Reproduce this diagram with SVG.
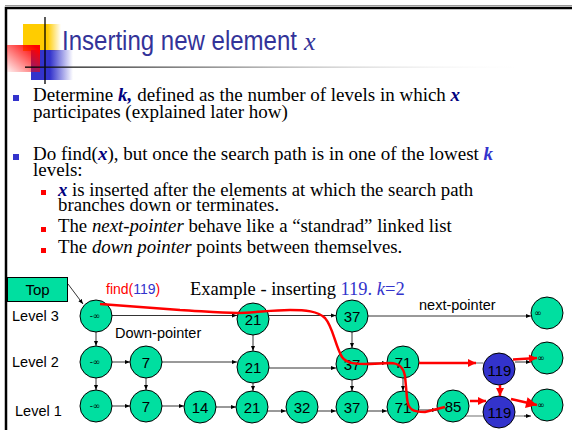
<svg xmlns="http://www.w3.org/2000/svg" width="572" height="430" viewBox="0 0 572 430">
<defs>
<style>
.nd{fill:#00DFA0;stroke:#000;stroke-width:1}
.bn{fill:#3333CC;stroke:#000;stroke-width:1}
.nt{font-family:"Liberation Sans",Arial,sans-serif;font-size:15px;text-anchor:middle;fill:#000}
.inf{font-family:"DejaVu Sans","Liberation Sans",sans-serif;font-size:9px;text-anchor:middle;fill:#000}
.lbl{font-family:"Liberation Sans",Arial,sans-serif;font-size:14.5px;fill:#000}
.bt{font-family:"Liberation Serif","Times New Roman",serif;font-size:19px;fill:#000}
.st{font-family:"Liberation Serif","Times New Roman",serif;font-size:18.8px;fill:#000}
.kx{font-weight:bold;font-style:italic;fill:#000080}
.k2{font-weight:bold;font-style:italic;fill:#3333CC}
.bl{stroke:#000;stroke-width:0.8;fill:none}
.gr{stroke:#999;stroke-width:1.4;fill:none}
.rd{stroke:#FF0000;stroke-width:2.5;fill:none}
</style>
<marker id="ah" viewBox="0 0 10 10" refX="10" refY="5" markerWidth="5" markerHeight="5" markerUnits="userSpaceOnUse" orient="auto"><path d="M0,1 L10,5 L0,9z" fill="#000"/></marker>
<marker id="ar" viewBox="0 0 10 10" refX="10" refY="5" markerWidth="9" markerHeight="8" markerUnits="userSpaceOnUse" orient="auto"><path d="M0,0 L10,5 L0,10z" fill="#FF0000"/></marker>
<marker id="arb" viewBox="0 0 10 10" refX="10" refY="5" markerWidth="12" markerHeight="11" markerUnits="userSpaceOnUse" orient="auto"><path d="M0,0 L10,5 L0,10z" fill="#FF0000"/></marker>
<linearGradient id="gy" x1="0" y1="0" x2="1" y2="0"><stop offset="0.65" stop-color="#FFCC00"/><stop offset="1" stop-color="#FFCC00" stop-opacity="0"/></linearGradient>
<linearGradient id="gb" x1="0" y1="0" x2="1" y2="0"><stop offset="0.45" stop-color="#3333CC"/><stop offset="1" stop-color="#3333CC" stop-opacity="0"/></linearGradient>
<linearGradient id="grd" x1="1" y1="0" x2="0" y2="1"><stop offset="0.1" stop-color="#FF0000"/><stop offset="1" stop-color="#FF0000" stop-opacity="0.05"/></linearGradient>
<linearGradient id="gl" x1="0" y1="0" x2="1" y2="0"><stop offset="0" stop-color="#000"/><stop offset="0.4" stop-color="#888"/><stop offset="1" stop-color="#fff" stop-opacity="0"/></linearGradient>
</defs>
<rect width="572" height="430" fill="#fff"/>
<g id="frame">
<line x1="5" y1="5.5" x2="572" y2="5.5" stroke="#999" stroke-width="1"/>
<path d="M6,430 V8 H572" fill="none" stroke="#000" stroke-width="2.5"/>
</g>
<g id="title-deco">
<rect x="23" y="24" width="38" height="27" fill="url(#gy)"/>
<rect x="31" y="50" width="42" height="30" fill="url(#gb)"/>
<rect x="7" y="45" width="33" height="27" fill="url(#grd)"/>
<line x1="45" y1="17" x2="45" y2="84" stroke="#000" stroke-width="1.3"/>
<rect x="25" y="66.5" width="510" height="1.3" fill="url(#gl)"/>
</g>
<g id="title">
<text x="62" y="50" font-family="Liberation Sans,Arial,sans-serif" font-size="27" fill="#333399" textLength="235" lengthAdjust="spacingAndGlyphs">Inserting new element</text>
<text x="304" y="50" font-family="Liberation Serif,Times New Roman,serif" font-size="26" font-style="italic" fill="#333399">x</text>
</g>
<g id="bullets">
<rect x="13" y="95" width="6" height="6" fill="#3333CC"/>
<text class="bt" x="33" y="101">Determine <tspan class="kx">k,</tspan><tspan dx="5">defined as the number of levels in which </tspan><tspan class="kx">x</tspan></text>
<text class="bt" x="33" y="118">participates (explained later how)</text>
<rect x="13" y="154" width="6" height="6" fill="#3333CC"/>
<text class="bt" x="33" y="160">Do find(<tspan class="kx">x</tspan>), but once the search path is in one of the lowest <tspan class="k2">k</tspan></text>
<text class="bt" x="33" y="176">levels:</text>
<rect x="41" y="190" width="5" height="5" fill="#FF0000"/>
<text class="st" x="58" y="196"><tspan class="kx">x</tspan> is inserted after the elements at which the search path</text>
<text class="st" x="58" y="211">branches down or terminates.</text>
<rect x="41" y="227" width="5" height="5" fill="#FF0000"/>
<text class="st" x="58" y="232">The <tspan font-style="italic">next-pointer</tspan> behave like a “standrad” linked list</text>
<rect x="41" y="248" width="5" height="5" fill="#FF0000"/>
<text class="st" x="58" y="253">The <tspan font-style="italic">down pointer</tspan> points between themselves.</text>
</g>
<g id="labels">
<text class="lbl" x="12" y="321">Level 3</text>
<text class="lbl" x="12" y="367">Level 2</text>
<text class="lbl" x="15" y="416">Level 1</text>
<text x="106" y="294" font-family="Liberation Sans,Arial,sans-serif" font-size="14" fill="#FF0000">find(<tspan fill="#3333CC">119</tspan>)</text>
<text x="190" y="295" font-family="Liberation Serif,Times New Roman,serif" font-size="18.5" fill="#000">Example - inserting <tspan fill="#3333CC">119. </tspan><tspan fill="#3333CC" font-style="italic">k</tspan><tspan fill="#3333CC">=2</tspan></text>
<text class="lbl" x="419" y="310">next-pointer</text>
<text class="lbl" x="115" y="338" font-size="14">Down-pointer</text>
</g>
<g id="connectors">
<path class="bl" d="M68,284 L83,304" marker-end="url(#ah)"/>
<path class="bl" d="M112,315.5 H237" marker-end="url(#ah)"/>
<path class="bl" d="M269,315.5 H336" marker-end="url(#ah)"/>
<path class="bl" d="M368,316 H531" marker-end="url(#ah)"/>
<path class="bl" d="M96,332 V346" marker-end="url(#ah)"/>
<path class="bl" d="M253,335 V351" marker-end="url(#ah)"/>
<path class="bl" d="M352,332 V348" marker-end="url(#ah)"/>
<path class="bl" d="M112,362 H130" marker-end="url(#ah)"/>
<path class="bl" d="M162,362 H237" marker-end="url(#ah)"/>
<path class="bl" d="M269,368 H336" marker-end="url(#ah)"/>
<path class="bl" d="M368,363 H387" marker-end="url(#ah)"/>
<path class="gr" d="M419,363 H483"/>
<path class="bl" d="M515,362 H531" marker-end="url(#ah)"/>
<path class="bl" d="M96,378 V390" marker-end="url(#ah)"/>
<path class="bl" d="M146,378 V390" marker-end="url(#ah)"/>
<path class="bl" d="M253,383 V391" marker-end="url(#ah)"/>
<path class="bl" d="M352,380 V391" marker-end="url(#ah)"/>
<path class="bl" d="M403,378 V391" marker-end="url(#ah)"/>
<path class="bl" d="M112,406 H130" marker-end="url(#ah)"/>
<path class="bl" d="M162,406 H184" marker-end="url(#ah)"/>
<path class="bl" d="M216,407 H236" marker-end="url(#ah)"/>
<path class="bl" d="M267,411 H286" marker-end="url(#ah)"/>
<path class="bl" d="M317,411 H336" marker-end="url(#ah)"/>
<path class="bl" d="M367,411 H387" marker-end="url(#ah)"/>
<path class="bl" d="M419,410 H437" marker-end="url(#ah)"/>
<path class="gr" d="M462,416 H484"/>
<path class="gr" d="M515,416 H526"/>
<path class="bl" d="M524,416 H531" marker-end="url(#ah)"/>
</g>
<g id="top"><rect x="7.5" y="277.5" width="60" height="24" class="nd"/><text class="nt" x="37.5" y="295">Top</text></g>
<g id="n3-minf"><circle class="nd" cx="96" cy="316" r="16"/><text class="inf" x="95" y="318.5">-∞</text></g>
<g id="n3-21"><circle class="nd" cx="253" cy="319" r="16"/><text class="nt" x="253" y="324.5">21</text></g>
<g id="n3-37"><circle class="nd" cx="352" cy="316" r="16"/><text class="nt" x="352" y="321.5">37</text></g>
<g id="n3-inf"><circle class="nd" cx="547" cy="313" r="16"/><text class="inf" x="538" y="316">∞</text></g>
<g id="n2-minf"><circle class="nd" cx="96" cy="362" r="16"/><text class="inf" x="95" y="364.5">-∞</text></g>
<g id="n2-7"><circle class="nd" cx="146" cy="362" r="16"/><text class="nt" x="146" y="367.5">7</text></g>
<g id="n2-21"><circle class="nd" cx="253" cy="367" r="16"/><text class="nt" x="253" y="372.5">21</text></g>
<g id="n2-37"><circle class="nd" cx="352" cy="364" r="16"/><text class="nt" x="352" y="369.5">37</text></g>
<g id="n2-71"><circle class="nd" cx="403" cy="362" r="16"/><text class="nt" x="403" y="367.5">71</text></g>
<g id="n2-119"><circle class="bn" cx="499" cy="369" r="16"/><text class="nt" x="499.5" y="376" font-size="16">119</text></g>
<g id="n2-inf"><circle class="nd" cx="547" cy="358" r="16"/><text class="inf" x="541" y="361">∞</text></g>
<g id="n1-minf"><circle class="nd" cx="96" cy="406" r="16"/><text class="inf" x="95" y="408.5">-∞</text></g>
<g id="n1-7"><circle class="nd" cx="146" cy="406" r="16"/><text class="nt" x="146" y="411.5">7</text></g>
<g id="n1-14"><circle class="nd" cx="200" cy="407" r="16"/><text class="nt" x="200" y="412.5">14</text></g>
<g id="n1-21"><circle class="nd" cx="252" cy="407" r="16"/><text class="nt" x="252" y="412.5">21</text></g>
<g id="n1-32"><circle class="nd" cx="302" cy="407" r="16"/><text class="nt" x="302" y="412.5">32</text></g>
<g id="n1-37"><circle class="nd" cx="352" cy="407" r="16"/><text class="nt" x="352" y="412.5">37</text></g>
<g id="n1-71"><circle class="nd" cx="403" cy="407" r="16"/><text class="nt" x="403" y="412.5">71</text></g>
<g id="n1-85"><circle class="nd" cx="453" cy="406" r="16"/><text class="nt" x="453" y="411.5">85</text></g>
<g id="n1-119"><circle class="bn" cx="499" cy="412" r="16"/><text class="nt" x="499.5" y="418" font-size="16">119</text></g>
<g id="n1-inf"><circle class="nd" cx="547" cy="405" r="16"/><text class="inf" x="541" y="408">∞</text></g>
<g id="search-path">
<path class="rd" d="M100,304 L180,310 C200,311 220,313 237,313 C255,313 270,310 290,310 C305,310 318,311 325,318 C333,327 335,345 342,357 C347,364 356,364 370,364 L390,363 C398,363 403,366 405,376 L407,398 C408,410 413,412 425,412 L445,407"/>
<path class="rd" d="M419,363 H476" marker-end="url(#ar)"/>
<path class="rd" d="M513,359.5 L537,358" marker-end="url(#ar)"/>
<path class="rd" d="M500,385 V396" marker-end="url(#ar)"/>
<path class="rd" d="M470,401 H486" marker-end="url(#ar)"/>
<path class="rd" d="M511,399 L537,405" stroke-width="4" marker-end="url(#arb)"/>
</g>
</svg>
